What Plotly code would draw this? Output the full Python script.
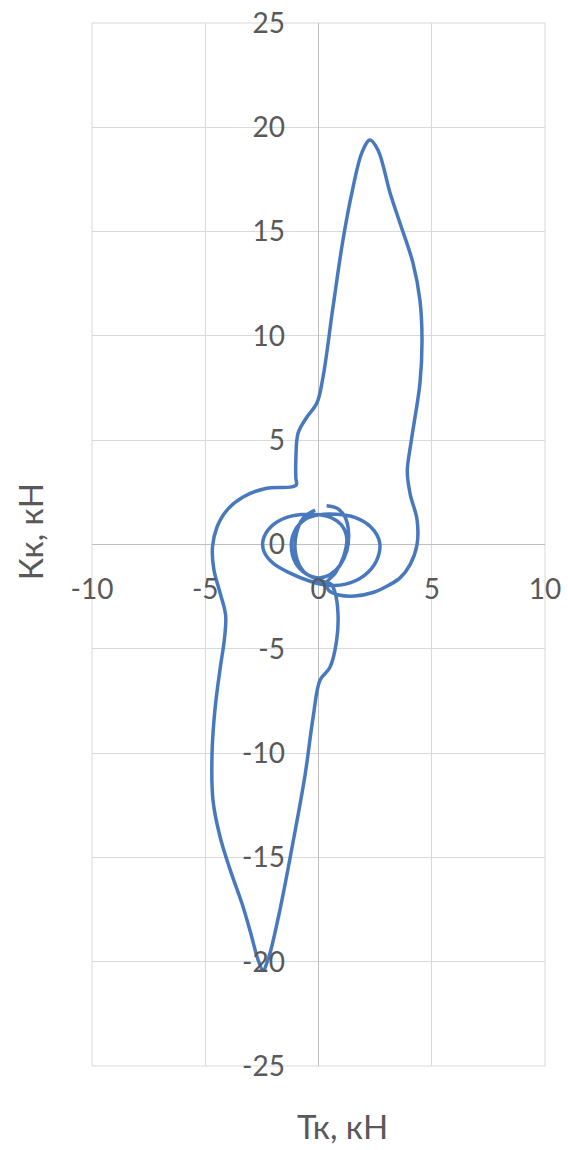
import plotly.graph_objects as go

# Polar load diagram on the crank pin: tangential (Tк) vs radial (Кк) force, kN
Tk = [0.36, 0.85, 1.2, 1.33, 1.25, 0.95, 0.5, 0.0, -0.55, -1.0, -1.2, -1.05, -0.6, 0.0,
      0.8, 1.6, 2.3, 2.7, 2.55, 2.0, 1.2, 0.4,
      -0.4, -1.3, -2.0, -2.4, -2.45, -2.1, -1.4, -0.5, 0.4, 1.0, 1.25, 1.1, 0.75, 0.35,
      0.45, 0.9, 1.6, 2.4, 3.1, 3.6, 4.05, 4.35, 4.35, 4.05, 3.92, 4.1, 4.48, 4.57, 4.48,
      4.17, 3.6, 3.16, 2.63, 2.27, 1.92, 1.52, 1.08, 0.64, 0.2, -0.07, -0.51, -0.9, -1.0,
      -1.0, -0.98, -1.26, -2.28, -3.33, -4.04, -4.48, -4.68, -4.62, -4.35, -4.1, -4.15,
      -4.35, -4.57, -4.7, -4.66, -4.35, -3.9, -3.38, -3.0, -2.67, -2.45, -2.2, -1.7, -1.13,
      -0.6, -0.24, 0.07, 0.5, 0.8, 0.86, 0.73, 0.55,
      0.0, -0.65, -1.0, -0.98, -0.65, -0.15]
Kk = [1.86, 1.72, 1.25, 0.5, -0.3, -1.0, -1.45, -1.6, -1.4, -0.9, -0.1, 0.65, 1.2, 1.42,
      1.45, 1.3, 0.85, 0.1, -0.8, -1.5, -1.9, -1.95,
      -1.75, -1.35, -0.9, -0.35, 0.2, 0.85, 1.3, 1.45, 1.35, 0.95, 0.3, -0.6, -1.35, -1.85,
      -2.2, -2.42, -2.47, -2.3, -1.95, -1.6, -0.95, 0.0, 1.2, 2.4, 3.5, 5.0, 7.74, 9.8, 11.7,
      13.5, 15.4, 16.85, 18.9, 19.39, 18.8, 17.1, 14.6, 11.38, 8.03, 6.78, 6.11, 5.34, 4.05,
      3.2, 2.85, 2.75, 2.7, 2.28, 1.65, 0.84, -0.12, -1.2, -2.3, -3.4, -4.5,
      -6.0, -7.9, -10.0, -12.25, -14.0, -15.6, -17.2, -18.6, -19.9, -20.4, -19.8, -17.5, -14.3,
      -11.1, -8.3, -6.5, -5.9, -4.6, -3.3, -2.3, -1.9,
      -1.7, -1.3, -0.5, 0.5, 1.3, 1.65]

x_ticks = [-10, -5, 0, 5, 10]
y_ticks = [-25, -20, -15, -10, -5, 0, 5, 10, 15, 20, 25]
x_tick_text = ["-10", "-5", "0", "5", "10"]
y_tick_text = ["-25", "-20", "-15", "-10", "-5", "0", "5", "10", "15", "20", "25"]

TEXT = "#595959"
GRID = "#d9d9d9"
FONT = "Lato"

fig = go.Figure(
    go.Scatter(
        x=Tk, y=Kk, mode="lines",
        line=dict(color="#4878BE", width=3.5, shape="spline", smoothing=1.0),
        hoverinfo="skip", showlegend=False,
    )
)

axis_common = dict(
    showgrid=True, gridcolor=GRID, gridwidth=1,
    zeroline=True, zerolinecolor="#bfbfbf", zerolinewidth=1,
    showline=False, anchor="free", position=0.5,
    ticks="outside", tickcolor="rgba(0,0,0,0)",
    tickfont=dict(family=FONT, size=28, color=TEXT),
    automargin=False, fixedrange=True,
)

fig.update_layout(
    width=568, height=1150,
    margin=dict(l=92, r=23, t=23, b=84),
    paper_bgcolor="white", plot_bgcolor="white",
    xaxis=dict(range=[-10, 10], tickvals=x_ticks, ticktext=x_tick_text,
               ticklen=20, **axis_common),
    yaxis=dict(range=[-25, 25], tickvals=y_ticks, ticktext=y_tick_text,
               ticklen=28, **axis_common),
    shapes=[dict(type="rect", xref="paper", yref="paper", x0=0, y0=0, x1=1, y1=1,
                 line=dict(color=GRID, width=1), layer="below")],
    annotations=[
        dict(text="Тк, кН", xref="paper", yref="paper", x=0.552, y=-0.058,
             showarrow=False, xanchor="center", yanchor="middle",
             font=dict(family=FONT, size=33, color=TEXT)),
        dict(text="Кк, кН", xref="paper", yref="paper", x=-0.135, y=0.5125,
             showarrow=False, xanchor="center", yanchor="middle", textangle=-90,
             font=dict(family=FONT, size=33, color=TEXT)),
    ],
)

fig.write_html("out.html")
